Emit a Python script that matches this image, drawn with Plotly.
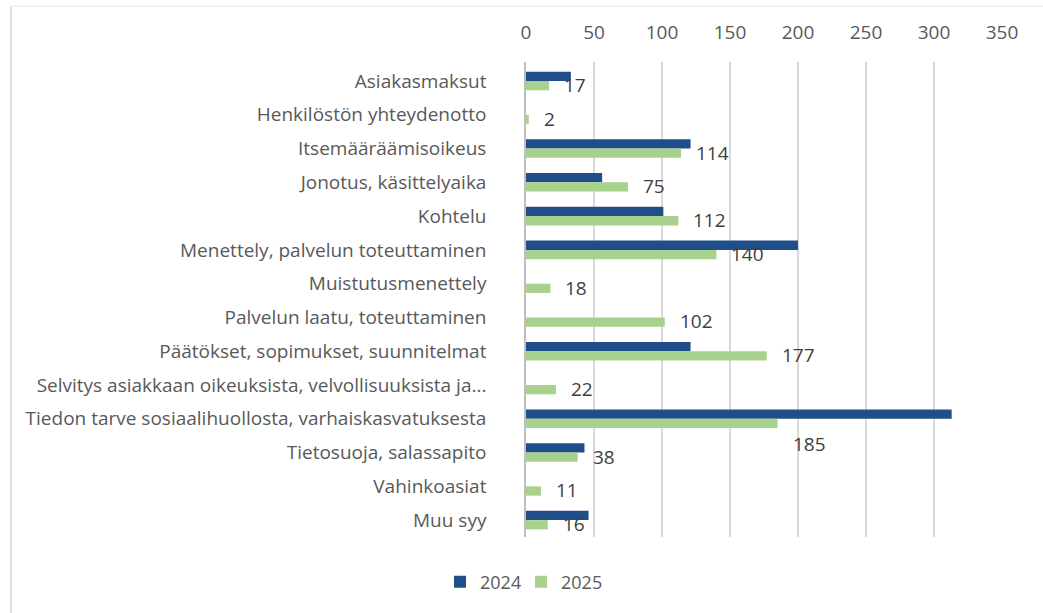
import plotly.graph_objects as go

categories = [
    "Asiakasmaksut",
    "Henkilöstön yhteydenotto",
    "Itsemääräämisoikeus",
    "Jonotus, käsittelyaika",
    "Kohtelu",
    "Menettely, palvelun toteuttaminen",
    "Muistutusmenettely",
    "Palvelun laatu, toteuttaminen",
    "Päätökset, sopimukset, suunnitelmat",
    "Selvitys asiakkaan oikeuksista, velvollisuuksista ja...",
    "Tiedon tarve sosiaalihuollosta, varhaiskasvatuksesta",
    "Tietosuoja, salassapito",
    "Vahinkoasiat",
    "Muu syy",
]
values_2024 = [33, 0, 121, 56, 101, 200, 0, 0, 121, 0, 313, 43, 0, 46]
values_2025 = [17, 2, 114, 75, 112, 140, 18, 102, 177, 22, 185, 38, 11, 16]
x_ticks = [0, 50, 100, 150, 200, 250, 300, 350]

W, H = 1043, 613
ML, MR, MT, MB = 526, 41, 62, 76
PW, PH = W - ML - MR, H - MT - MB

BLUE = "#1F4E88"
GREEN = "#A9D18E"
FONT = "Open Sans"

fig = go.Figure()
fig.add_trace(go.Bar(
    y=categories, x=values_2024, orientation="h", name="2024",
    marker=dict(color=BLUE, line=dict(width=0)),
))
fig.add_trace(go.Bar(
    y=categories, x=values_2025, orientation="h", name="2025",
    marker=dict(color=GREEN, line=dict(width=0)),
))

# data labels on 2025 bars
special_yshift = {"Tiedon tarve sosiaalihuollosta, varhaiskasvatuksesta": -25}
for cat, v in zip(categories, values_2025):
    fig.add_annotation(
        x=v, y=cat, xref="x", yref="y", text=str(v), showarrow=False,
        xanchor="left", yanchor="middle", xshift=13,
        yshift=special_yshift.get(cat, -4),
        font=dict(family=FONT, size=19, color="#404040"),
    )

# faint chart border (left and top edges)
def px_x(p):
    return (p - ML) / PW

def px_y(p):
    return 1 - (p - MT) / PH

fig.add_shape(type="line", xref="paper", yref="paper",
              x0=px_x(11), x1=px_x(11), y0=px_y(H + 5), y1=px_y(6),
              line=dict(color="#d9d9d9", width=1.5))
fig.add_shape(type="line", xref="paper", yref="paper",
              x0=px_x(11), x1=px_x(W + 5), y0=px_y(6), y1=px_y(6),
              line=dict(color="#ececec", width=1.5))

fig.update_layout(
    width=W, height=H,
    margin=dict(l=ML, r=MR, t=MT, b=MB),
    paper_bgcolor="white", plot_bgcolor="white",
    barmode="group", bargap=0.45, bargroupgap=0,
    font=dict(family=FONT, size=19, color="#595959"),
    showlegend=True,
    legend=dict(
        orientation="h", x=px_x(521), y=px_y(582), xanchor="center", yanchor="middle",
        font=dict(family=FONT, size=18, color="#595959"),
        itemwidth=30, entrywidth=36, traceorder="normal",
    ),
    xaxis=dict(
        side="top", range=[0, 350], tickvals=x_ticks,
        showgrid=True, gridcolor="#d9d9d9", gridwidth=1.5,
        zeroline=False, showline=False, ticks="",
        ticklabelstandoff=18,
        tickfont=dict(family=FONT, size=19, color="#595959"),
        fixedrange=True,
    ),
    yaxis=dict(
        autorange="reversed", type="category",
        showgrid=False, zeroline=False,
        showline=True, linecolor="#bfbfbf", linewidth=1.5,
        ticks="", ticklabelstandoff=34,
        tickfont=dict(family=FONT, size=19, color="#595959"),
        fixedrange=True,
    ),
)

fig.write_html(
    "out.html",
    config={"displayModeBar": False},
    post_script="document.body.style.margin='0px';document.body.style.overflow='hidden';",
)
